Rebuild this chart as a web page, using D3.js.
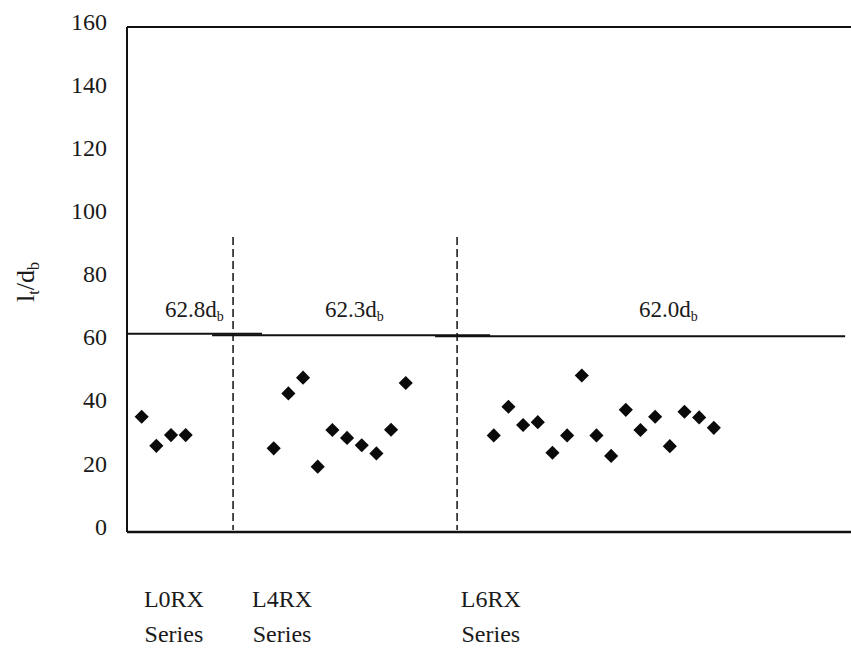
<!DOCTYPE html>
<html>
<head>
<meta charset="utf-8">
<script src="https://cdn.jsdelivr.net/npm/d3@7"></script>
</head>
<body style="margin:0;background:#fff">
<script>
// series names, bottom labels
let seriesNames = ['L0RX', 'L4RX', 'L6RX'];
// l_t/d_b values, one array per series
let l0rxVals = [36.5, 27.3, 30.7, 30.7];
let l4rxVals = [26.5, 43.9, 48.9, 20.7, 32.3, 29.8, 27.5, 24.9, 32.4, 47.2];
let l6rxVals = [30.6, 39.7, 33.9, 34.8, 25.1, 30.6, 49.6, 30.6, 24.1, 38.7, 32.3, 36.5, 27.2, 38.1, 36.3, 33.0];
// position (specimen slot) of the first specimen of each series
let seriesStart = [1, 10, 25];
// required lengths (in d_b) for each series and the slot range they span
let limitVals = [62.8, 62.3, 62.0];
let limitFrom = [0, 5.8, 21.0];
let limitTo = [9.2, 24.75, 48.95];
let limitLabelAt = [4.6, 15.5, 36.9];
// dashed dividers between series
let dividers = [7.23, 22.5];
let dividerTop = 93.5;
// where the series names sit under the axis
let nameAt = [3.2, 10.57, 24.8];
let yTicks = [0, 20, 40, 60, 80, 100, 120, 140, 160];

let w = 851, h = 652;
let padL = 127, padR = 851, padT = 27, padB = 532;
let fontName = '"Times New Roman", Tinos, "Liberation Serif"';
let ink = '#1a1a1a';

let allVals = [l0rxVals, l4rxVals, l6rxVals];
let points = [];
allVals.forEach((vals, s) => {
  vals.forEach((v, i) => points.push({ series: s, slot: seriesStart[s] + i, value: v }));
});

let svg = d3.select('body').append('svg')
  .attr('width', w)
  .attr('height', h);

let x = d3.scaleLinear().domain([0, 49.35]).range([padL, padR]);
let y = d3.scaleLinear().domain([0, 160]).range([padB, padT]);

// y axis tick labels (placed with a transform like the rotated title)
let yAxis = svg.append('g')
  .attr('transform', `translate(${padL},0)`)
  .call(d3.axisLeft(y).tickValues(yTicks).tickSize(0).tickPadding(20));
yAxis.select('.domain').remove();
yAxis.selectAll('text')
  .attr('x', null)
  .attr('y', null)
  .attr('dy', '0.3em')
  .attr('transform', 'translate(-20,-5) rotate(0)')
  .attr('fill', ink)
  .style('font-family', fontName)
  .style('font-size', '24px');

// frame: left, top, bottom
svg.append('line').attr('x1', padL).attr('x2', padL).attr('y1', padT).attr('y2', padB)
  .attr('stroke', '#111').attr('stroke-width', 2);
svg.append('line').attr('x1', padL).attr('x2', padR).attr('y1', padT).attr('y2', padT)
  .attr('stroke', '#111').attr('stroke-width', 2);
svg.append('line').attr('x1', padL).attr('x2', padR).attr('y1', padB).attr('y2', padB)
  .attr('stroke', '#111').attr('stroke-width', 2.5);

// dashed dividers
svg.selectAll('.divider')
  .data(dividers)
  .enter()
  .append('line')
  .attr('class', 'divider')
  .attr('x1', d => x(d)).attr('x2', d => x(d))
  .attr('y1', y(dividerTop)).attr('y2', padB - 2)
  .attr('stroke', '#111')
  .attr('stroke-width', 1.5)
  .attr('stroke-dasharray', '8,4');

// required length lines
svg.selectAll('.limit')
  .data(limitVals)
  .enter()
  .append('line')
  .attr('class', 'limit')
  .attr('x1', (d, i) => x(limitFrom[i]))
  .attr('x2', (d, i) => x(limitTo[i]))
  .attr('y1', d => y(d))
  .attr('y2', d => y(d))
  .attr('stroke', '#111')
  .attr('stroke-width', 2);

let limitText = svg.selectAll('.limitText')
  .data(limitVals)
  .enter()
  .append('text')
  .attr('class', 'limitText')
  .attr('transform', (d, i) => `translate(${x(limitLabelAt[i])},317) rotate(0)`)
  .attr('text-anchor', 'middle')
  .attr('fill', ink)
  .style('font-family', fontName)
  .style('font-size', '23px');
limitText.append('tspan').text(d => d.toFixed(1) + 'd');
limitText.append('tspan').text('b').attr('dy', 4).style('font-size', '14px');

// points
svg.selectAll('.pt')
  .data(points)
  .enter()
  .append('path')
  .attr('class', 'pt')
  .attr('d', d3.symbol(d3.symbolSquare, 100))
  .attr('transform', d => `translate(${x(d.slot)},${y(d.value)}) rotate(45)`)
  .attr('fill', '#0a0a0a');

// series names
let names = svg.selectAll('.name')
  .data(seriesNames)
  .enter()
  .append('text')
  .attr('class', 'name')
  .attr('transform', (d, i) => `translate(${x(nameAt[i])},607) rotate(0)`)
  .attr('text-anchor', 'middle')
  .attr('fill', ink)
  .style('font-family', fontName)
  .style('font-size', '24px');
names.append('tspan').attr('x', 0).attr('y', 0).text(d => d);
names.append('tspan').attr('x', 0).attr('y', 35).text('Series');

// y title l_t/d_b
let yTitle = svg.append('text')
  .attr('transform', 'translate(34,282) rotate(-90)')
  .attr('text-anchor', 'middle')
  .attr('fill', ink)
  .style('font-family', fontName)
  .style('font-size', '26px');
yTitle.append('tspan').text('l');
yTitle.append('tspan').text('t').attr('dy', 5).style('font-size', '16px');
yTitle.append('tspan').text('/d').attr('dy', -5);
yTitle.append('tspan').text('b').attr('dy', 5).style('font-size', '16px');
</script>
</body>
</html>
